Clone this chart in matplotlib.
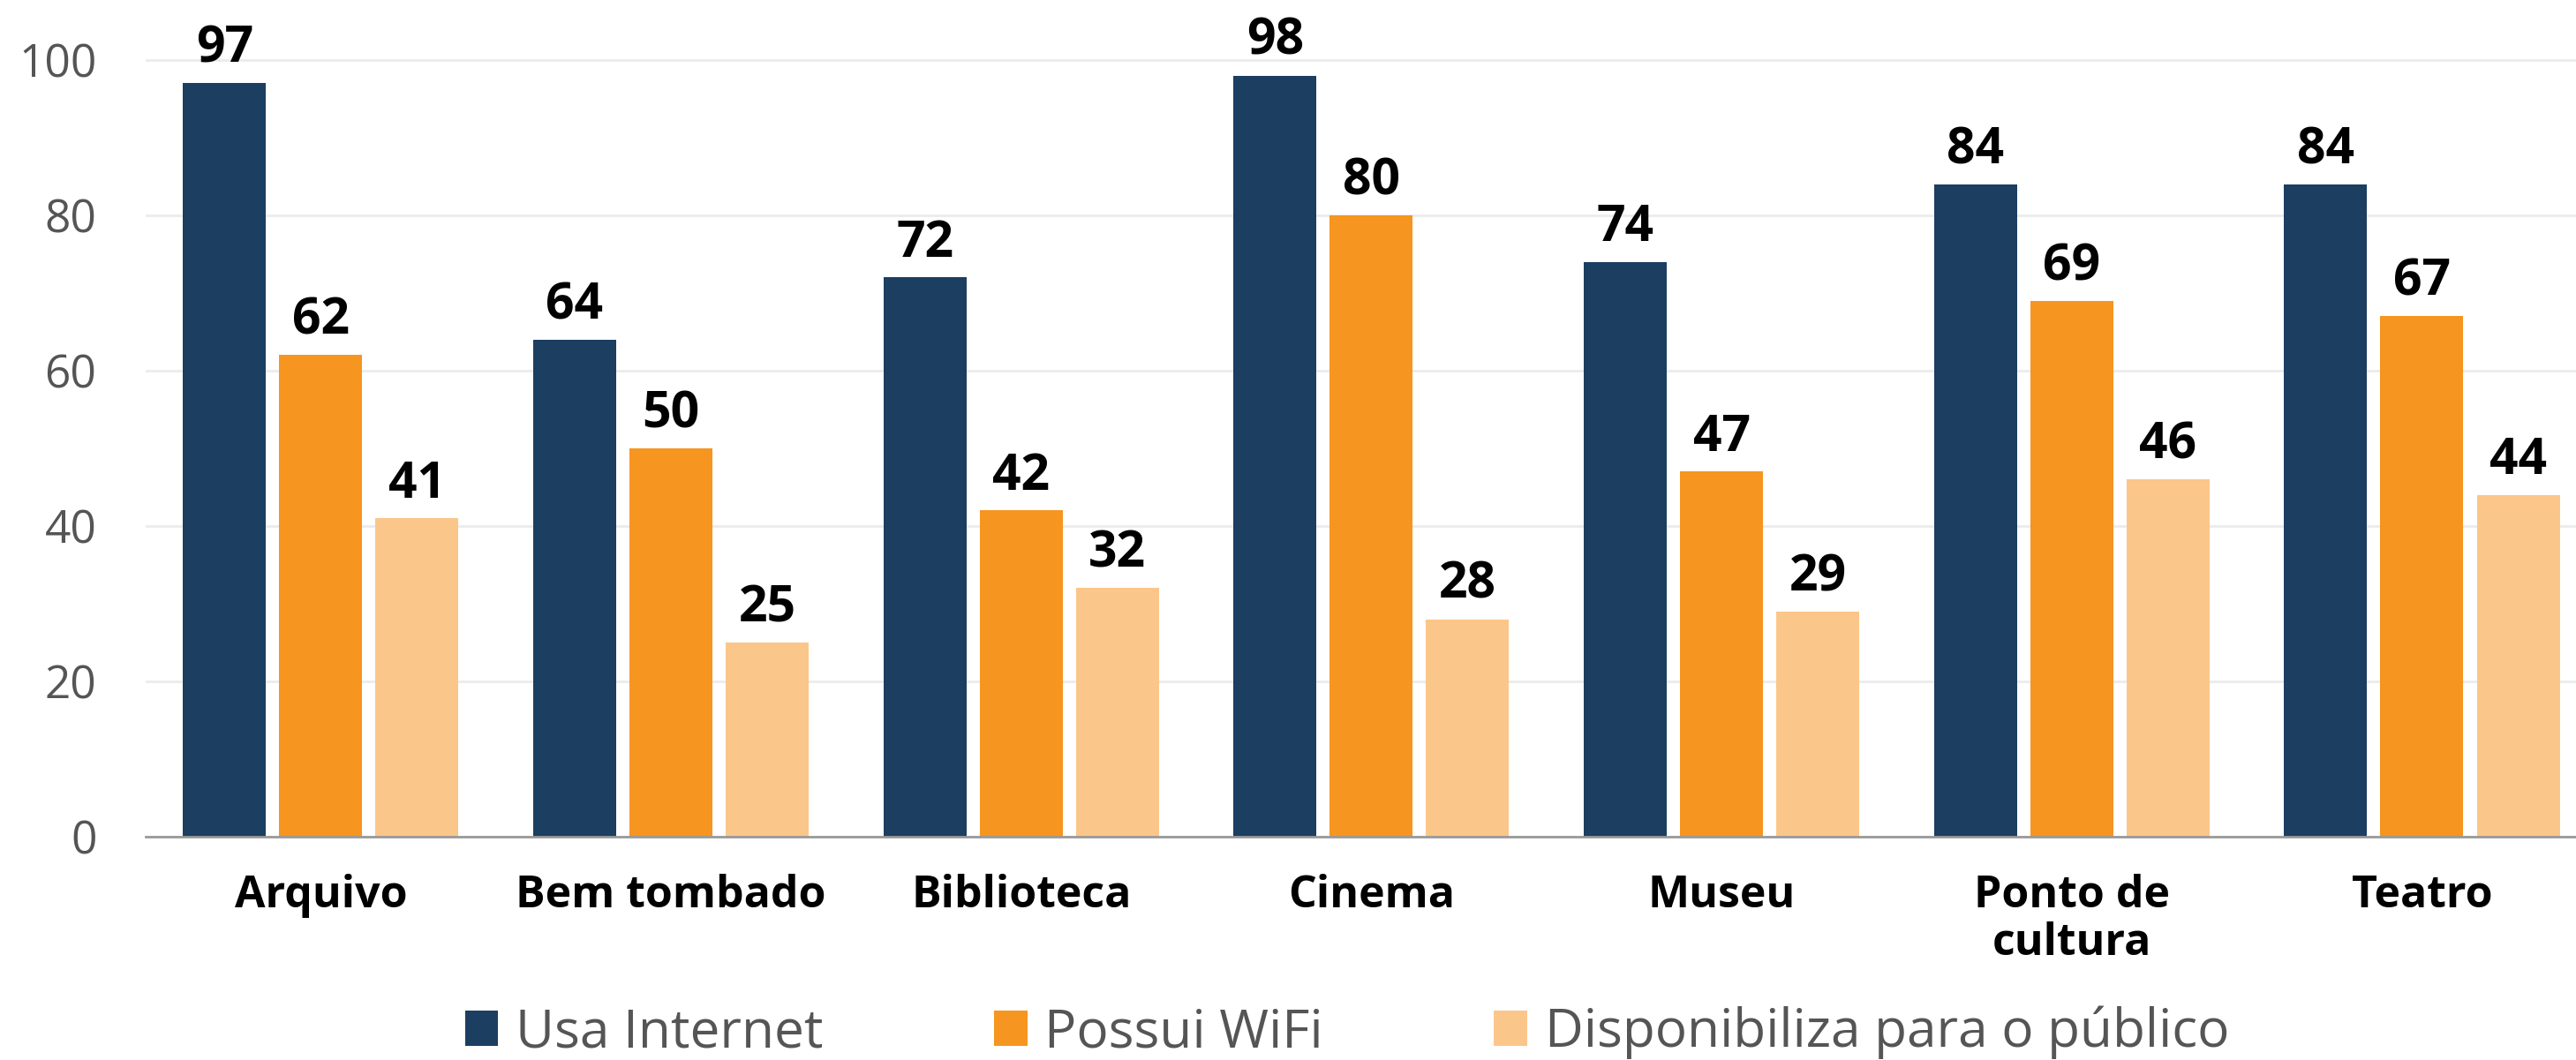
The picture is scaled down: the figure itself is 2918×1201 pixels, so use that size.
import matplotlib
matplotlib.use("Agg")
import matplotlib.pyplot as plt
import numpy as np
from matplotlib.patches import Patch

categories = ["Arquivo", "Bem tombado", "Biblioteca", "Cinema", "Museu", "Ponto de\ncultura", "Teatro"]
series_names = ["Usa Internet", "Possui WiFi", "Disponibiliza para o público"]
usa_internet = [97, 64, 72, 98, 74, 84, 84]
possui_wifi = [62, 50, 42, 80, 47, 69, 67]
disponibiliza = [41, 25, 32, 28, 29, 46, 44]
yticks = [0, 20, 40, 60, 80, 100]

colors = ["#1B3E61", "#F6951F", "#FBC68A"]
series = [usa_internet, possui_wifi, disponibiliza]

plt.rcParams['font.family'] = ['Open Sans', 'DejaVu Sans']

W, H = 2918, 1201
fig = plt.figure(figsize=(W / 100, H / 100), dpi=100)
left = 165 / W
bottom = 1 - 948 / H
ax = fig.add_axes([left, bottom, 1 - left, 1 - bottom])

y_top = 948 / 8.8
ax.set_ylim(0, y_top)
ax.set_xlim(-0.5, 6.44)

x = np.arange(len(categories))
pitch = 0.275
width = 0.237
for i, (vals, c) in enumerate(zip(series, colors)):
    pos = x + (i - 1) * pitch
    ax.bar(pos, vals, width=width, color=c, zorder=3)
    for px, v in zip(pos, vals):
        ax.annotate(str(v), (px, v), xytext=(0, 17), textcoords="offset points",
                    ha="center", va="baseline", fontsize=41, fontweight="bold",
                    color="black", zorder=4)

ax.set_yticks(yticks)
ax.set_yticklabels([str(t) for t in yticks], fontsize=37, color="#555555")
ax.yaxis.grid(True, color="#EBEBEB", linewidth=2, zorder=0)
ax.set_axisbelow(True)
ax.tick_params(axis="y", length=0, pad=40)
ax.set_xticks(x)
ax.set_xticklabels(categories, fontsize=36, fontweight="bold", color="black", linespacing=1.12)
ax.tick_params(axis="x", length=0, pad=30)

for s in ["top", "right", "left"]:
    ax.spines[s].set_visible(False)
ax.spines["bottom"].set_color("#999999")
ax.spines["bottom"].set_linewidth(2)
ax.spines["bottom"].set_zorder(5)

handles = [Patch(facecolor=c, edgecolor="none") for c in colors]
fig.legend(handles, series_names, loc="center", bbox_to_anchor=(1526 / W, 1 - 1170 / H),
           ncol=3, frameon=False, fontsize=43.5, labelcolor="#555555",
           handlelength=0.62, handleheight=0.64, handletextpad=0.33, columnspacing=3.2)

fig.savefig("out.png", dpi=100)
